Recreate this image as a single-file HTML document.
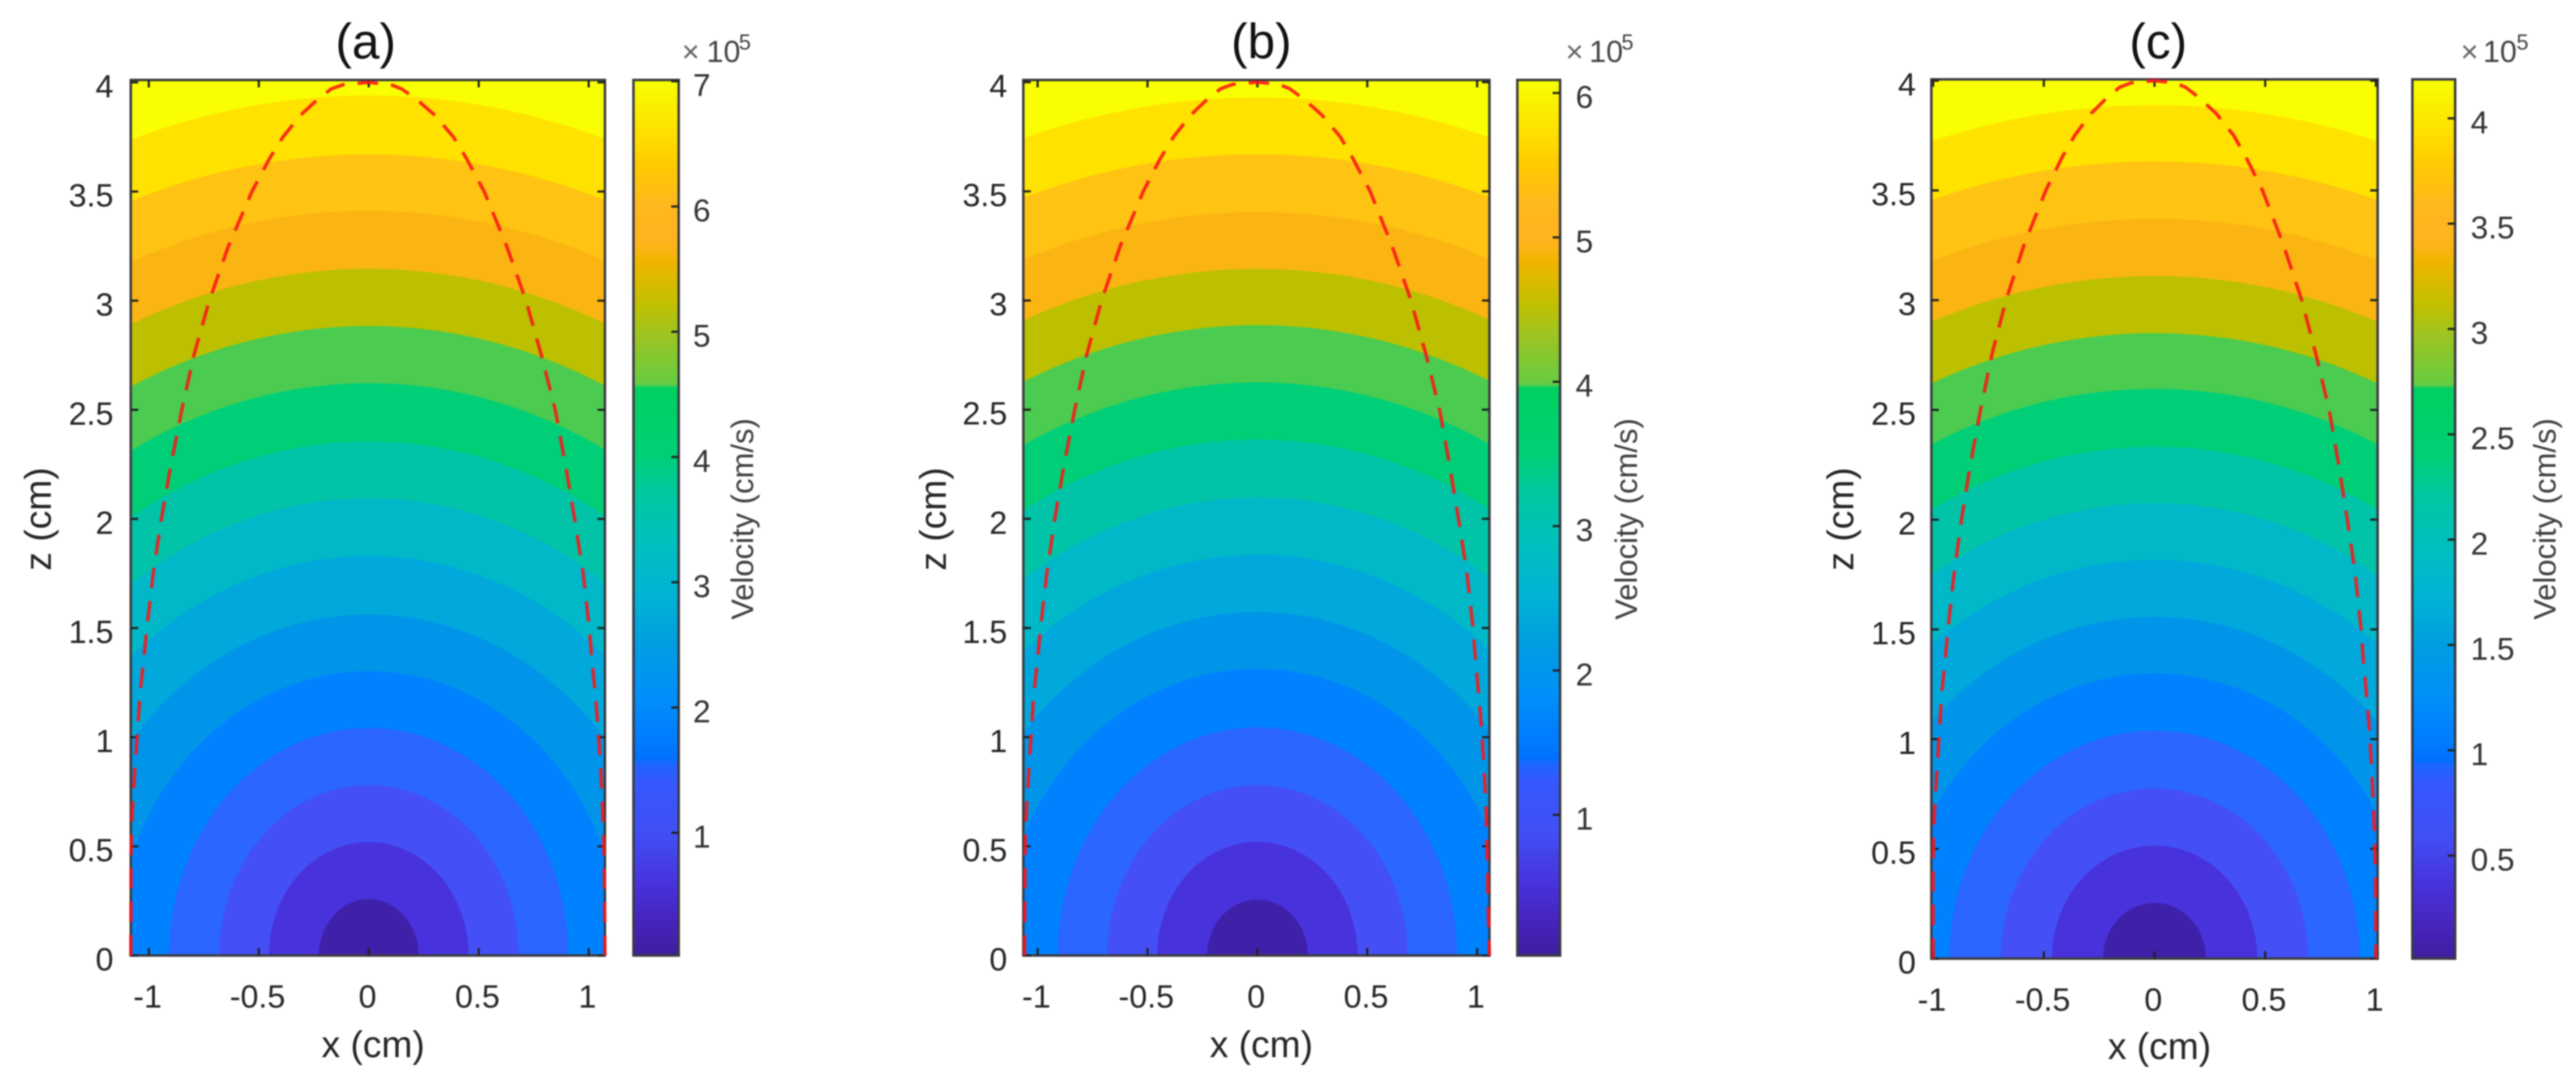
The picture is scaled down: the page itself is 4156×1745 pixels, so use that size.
<!DOCTYPE html>
<html lang="en">
<head>
<meta charset="utf-8">
<title>Velocity contour panels</title>
<style>
html,body{margin:0;padding:0;background:#fff;width:4156px;height:1745px;overflow:hidden}
svg{display:block;filter:blur(1.1px)}
text{font-family:"Liberation Sans",Arial,sans-serif}
</style>
</head>
<body>
<svg id="figure" xmlns="http://www.w3.org/2000/svg" width="4156" height="1745" viewBox="0 0 4156 1745">
  <rect x="0" y="0" width="4156" height="1745" fill="#ffffff"/>
  <defs id="svg-defs"></defs>
  <g id="plots"></g>

  <g fill="#262626">
    <text x="590" y="94" font-size="80" text-anchor="middle" fill="#111">(a)</text>
    <text x="602" y="1705" font-size="60" text-anchor="middle">x (cm)</text>
    <text transform="translate(82,837) rotate(-90)" font-size="60" text-anchor="middle">z (cm)</text>
    <text transform="translate(1215,837) rotate(-90)" font-size="50" text-anchor="middle" fill="#404040">Velocity (cm/s)</text>
    <text x="1100" y="100" font-size="49" fill="#666">×</text>
    <text x="1140" y="100" font-size="49" fill="#444">10</text>
    <text x="1192" y="80" font-size="35" fill="#444">5</text>
  </g>
  <g fill="#262626">
    <text x="2035" y="94" font-size="80" text-anchor="middle" fill="#111">(b)</text>
    <text x="2035" y="1705" font-size="60" text-anchor="middle">x (cm)</text>
    <text transform="translate(1526,837) rotate(-90)" font-size="60" text-anchor="middle">z (cm)</text>
    <text transform="translate(2641,837) rotate(-90)" font-size="50" text-anchor="middle" fill="#404040">Velocity (cm/s)</text>
    <text x="2526" y="100" font-size="49" fill="#666">×</text>
    <text x="2564" y="100" font-size="49" fill="#444">10</text>
    <text x="2616" y="80" font-size="35" fill="#444">5</text>
  </g>
  <g fill="#262626">
    <text x="3482" y="94" font-size="80" text-anchor="middle" fill="#111">(c)</text>
    <text x="3484" y="1708" font-size="60" text-anchor="middle">x (cm)</text>
    <text transform="translate(2990,837) rotate(-90)" font-size="60" text-anchor="middle">z (cm)</text>
    <text transform="translate(4123,837) rotate(-90)" font-size="50" text-anchor="middle" fill="#404040">Velocity (cm/s)</text>
    <text x="3970" y="100" font-size="49" fill="#666">×</text>
    <text x="4006" y="100" font-size="49" fill="#444">10</text>
    <text x="4060" y="80" font-size="35" fill="#444">5</text>
  </g>
</svg>

<script>
// ---------- shared values ----------
var zTicks = [0, 0.5, 1, 1.5, 2, 2.5, 3, 3.5, 4];
var zTickLabels = ['0', '0.5', '1', '1.5', '2', '2.5', '3', '3.5', '4'];
var xTicks = [-1, -0.5, 0, 0.5, 1];
var xTickLabels = ['-1', '-0.5', '0', '0.5', '1'];
var bandColors = ['#f9ff00', '#ffe200', '#ffc313', '#fbb512', '#bcc000', '#4bcb50', '#00cf78', '#00c3a8', '#00b8c8', '#00a8dc', '#0095e8', '#0082ff', '#2a66ff', '#4450f5', '#4832dc', '#3f20a8'];
var colormapFractions = [0, 0.003, 0.032, 0.082, 0.141, 0.2, 0.221, 0.2245, 0.243, 0.299, 0.358, 0.413, 0.475, 0.53, 0.568, 0.649, 0.651, 0.654, 0.711, 0.744, 0.793, 0.8145, 0.857, 0.907, 0.925, 1];
var colormapColors = ['#3f1fa0', '#3f1fa0', '#4622b8', '#4832dc', '#4050f5', '#3558ff', '#1a68ff', '#0070ff', '#007aff', '#0090f8', '#009ee0', '#00b4d4', '#00c0bc', '#00c89e', '#00cf78', '#00d060', '#50cd50', '#68cc40', '#a0c420', '#c2c000', '#f0b500', '#ffb41e', '#ffb81e', '#ffcc00', '#ffd800', '#f8ff00'];
var boundaryZ = [0, 0.3, 0.45, 0.6, 0.75, 0.9, 1.05, 1.2, 1.35, 1.5, 1.75, 2, 2.25, 2.5, 2.75, 3, 3.25, 3.5, 3.65, 3.75, 3.85, 3.92, 3.97, 3.99, 4];

// ---------- panel (a) ----------
var aCrownZ = [3.94, 3.67, 3.412, 3.146, 2.884, 2.622, 2.355, 2.094, 1.83, 1.5625, 1.303, 1.043, 0.781, 0.52, 0.2585];
var aSemiX = [3.42, 3.22, 2.98, 2.745, 2.525, 2.295, 2.07, 1.85, 1.63, 1.39, 1.15, 0.907, 0.68, 0.454, 0.227];
var aBoundaryLeftX = [-1.082, -1.081, -1.081, -1.078, -1.07, -1.06, -1.05, -1.04, -1.024, -1.009, -0.98, -0.943, -0.899, -0.85, -0.795, -0.725, -0.638, -0.531, -0.452, -0.39, -0.31, -0.235, -0.171, -0.115, 0];
var aBoundaryRightX = [1.074, 1.072, 1.07, 1.066, 1.06, 1.052, 1.042, 1.03, 1.015, 1.003, 0.975, 0.936, 0.894, 0.848, 0.785, 0.715, 0.627, 0.525, 0.445, 0.385, 0.3, 0.22, 0.15, 0.1, 0];
var aColorTicks = [1, 2, 3, 4, 5, 6, 7];
var aColorTickLabels = ['1', '2', '3', '4', '5', '6', '7'];

// ---------- panel (b) ----------
var bCrownZ = [3.93, 3.67, 3.405, 3.145, 2.887, 2.625, 2.363, 2.097, 1.835, 1.573, 1.314, 1.046, 0.78, 0.521, 0.256];
var bSemiX = [3.5, 3.27, 3.03, 2.8, 2.57, 2.34, 2.105, 1.868, 1.634, 1.4, 1.17, 0.909, 0.683, 0.456, 0.229];
var bBoundaryLeftX = [-1.06, -1.057, -1.057, -1.054, -1.046, -1.037, -1.027, -1.017, -1.001, -0.987, -0.958, -0.922, -0.879, -0.831, -0.777, -0.709, -0.624, -0.519, -0.442, -0.381, -0.303, -0.23, -0.167, -0.112, 0];
var bBoundaryRightX = [1.056, 1.048, 1.046, 1.043, 1.037, 1.029, 1.019, 1.007, 0.993, 0.981, 0.954, 0.915, 0.874, 0.829, 0.768, 0.699, 0.613, 0.513, 0.435, 0.377, 0.293, 0.215, 0.147, 0.098, 0];
var bColorTicks = [1, 2, 3, 4, 5, 6];
var bColorTickLabels = ['1', '2', '3', '4', '5', '6'];

// ---------- panel (c) ----------
var cCrownZ = [3.889, 3.632, 3.371, 3.11, 2.85, 2.596, 2.332, 2.075, 1.817, 1.557, 1.3, 1.039, 0.775, 0.515, 0.254];
var cSemiX = [3.5, 3.27, 3.03, 2.8, 2.565, 2.34, 2.1, 1.87, 1.64, 1.4, 1.17, 0.927, 0.694, 0.464, 0.232];
var cBoundaryLeftX = [-1.0, -1.0, -1.0, -0.997, -0.99, -0.98, -0.971, -0.962, -0.947, -0.933, -0.906, -0.872, -0.832, -0.786, -0.735, -0.671, -0.59, -0.491, -0.418, -0.361, -0.287, -0.217, -0.158, -0.106, 0];
var cBoundaryRightX = [1.0, 0.998, 0.996, 0.992, 0.986, 0.979, 0.97, 0.958, 0.944, 0.933, 0.907, 0.871, 0.832, 0.789, 0.73, 0.665, 0.583, 0.488, 0.414, 0.358, 0.279, 0.205, 0.14, 0.093, 0];
var cColorTicks = [0.5, 1, 1.5, 2, 2.5, 3, 3.5, 4];
var cColorTickLabels = ['0.5', '1', '1.5', '2', '2.5', '3', '3.5', '4'];

// ---------- layout only ----------
var panels = [
  { id: 'a', l: 211, r: 976, t: 129, b: 1541, xMin: -1.082, xMax: 1.074, yMax: 4.011, cl: 1022, cr: 1095, vMin: 0.02, vMax: 7.01, labelGap: 28, cbGap: 23,
    crown: aCrownZ, semi: aSemiX, left: aBoundaryLeftX, right: aBoundaryRightX, cTicks: aColorTicks, cLabels: aColorTickLabels },
  { id: 'b', l: 1651, r: 2403, t: 129, b: 1541, xMin: -1.065, xMax: 1.056, yMax: 4.01, cl: 2448, cr: 2517, vMin: 0.026, vMax: 6.09, labelGap: 26, cbGap: 25,
    crown: bCrownZ, semi: bSemiX, left: bBoundaryLeftX, right: bBoundaryRightX, cTicks: bColorTicks, cLabels: bColorTickLabels },
  { id: 'c', l: 3116, r: 3836, t: 128, b: 1546, xMin: -1.008, xMax: 1.008, yMax: 4.006, cl: 3892, cr: 3961, vMin: 0.011, vMax: 4.185, labelGap: 25, cbGap: 25,
    crown: cCrownZ, semi: cSemiX, left: cBoundaryLeftX, right: cBoundaryRightX, cTicks: cColorTicks, cLabels: cColorTickLabels }
];

var NS = 'http://www.w3.org/2000/svg';
var plots = document.getElementById('plots');
var defs = document.getElementById('svg-defs');

function make(tag, attrs, parent) {
  var el = document.createElementNS(NS, tag);
  for (var k in attrs) { el.setAttribute(k, attrs[k]); }
  parent.appendChild(el);
  return el;
}

// one shared vertical gradient for all colorbars
var gradient = make('linearGradient', { id: 'colormap', x1: '0', y1: '1', x2: '0', y2: '0' }, defs);
colormapFractions.forEach(function (f, i) {
  make('stop', { offset: f, 'stop-color': colormapColors[i] }, gradient);
});

function drawPanel(p) {
  var sx = function (v) { return p.l + (v - p.xMin) / (p.xMax - p.xMin) * (p.r - p.l); };
  var sy = function (v) { return p.b - v / p.yMax * (p.b - p.t); };
  var sc = function (v) { return p.b - (v - p.vMin) / (p.vMax - p.vMin) * (p.b - p.t); };

  var group = make('g', {}, plots);
  
  

  var contours = make('g', {}, group);
  
  

  var base = make('rect', { x: p.l, y: p.t, width: p.r - p.l, height: p.b - p.t, fill: bandColors[0] }, contours);
  
  

  // each band: the part of a half ellipse (crown height, semi width) that lies inside the axes
  p.crown.forEach(function (c, i) {
    var a = p.semi[i];
    var x0 = Math.max(p.xMin, -a), x1 = Math.min(p.xMax, a);
    var z0 = c * Math.sqrt(Math.max(0, 1 - (x0 / a) * (x0 / a)));
    var z1 = c * Math.sqrt(Math.max(0, 1 - (x1 / a) * (x1 / a)));
    var rx = Math.abs(sx(a) - sx(0)), ry = Math.abs(sy(c) - sy(0));
    var d = 'M' + sx(x0) + ' ' + sy(0) + 'L' + sx(x0) + ' ' + sy(z0) +
            'A' + rx + ' ' + ry + ' 0 0 1 ' + sx(x1) + ' ' + sy(z1) +
            'L' + sx(x1) + ' ' + sy(0) + 'Z';
    var band = make('path', { d: d, fill: bandColors[i + 1] }, contours);
    
    
  });

  // axis frame
  var frame = make('rect', { x: p.l, y: p.t, width: p.r - p.l, height: p.b - p.t, fill: 'none', stroke: '#3a3a40', 'stroke-width': 4 }, group);
  
  

  // x ticks
  xTicks.forEach(function (v, i) {
    var x = sx(v);
    var t1 = make('line', { x1: x, x2: x, y1: p.b, y2: p.b - 12, stroke: '#222', 'stroke-width': 3.5 }, group);
    
    
    var t2 = make('line', { x1: x, x2: x, y1: p.t, y2: p.t + 12, stroke: '#222', 'stroke-width': 3.5 }, group);
    
    
    var lab = make('text', { x: x - 2, y: p.b + 84, 'font-size': 52, 'text-anchor': 'middle', fill: '#262626' }, group);
    lab.textContent = xTickLabels[i];
    
    
  });

  // z ticks
  zTicks.forEach(function (v, i) {
    var y = sy(v);
    var t1 = make('line', { x1: p.l, x2: p.l + 12, y1: y, y2: y, stroke: '#222', 'stroke-width': 3.5 }, group);
    
    
    var t2 = make('line', { x1: p.r, x2: p.r - 12, y1: y, y2: y, stroke: '#222', 'stroke-width': 3.5 }, group);
    
    
    var lab = make('text', { x: p.l - p.labelGap, y: y + 24, 'font-size': 52, 'text-anchor': 'end', fill: '#262626' }, group);
    lab.textContent = zTickLabels[i];
    
    
  });

  // dashed boundary curve
  var d = '';
  boundaryZ.forEach(function (z, i) { d += (i ? 'L' : 'M') + sx(p.left[i]) + ' ' + sy(z); });
  for (var j = boundaryZ.length - 2; j >= 0; j--) { d += 'L' + sx(p.right[j]) + ' ' + sy(boundaryZ[j]); }
  var curve = make('path', { d: d, fill: 'none', stroke: 'rgba(250,20,24,0.88)', 'stroke-width': 5.5, 'stroke-linejoin': 'round', 'stroke-dasharray': '33 21' }, group);
  
  

  // colorbar
  var bar = make('rect', { x: p.cl, y: p.t, width: p.cr - p.cl, height: p.b - p.t, fill: 'url(#colormap)', stroke: '#3a3a40', 'stroke-width': 4 }, group);
  
  

  p.cTicks.forEach(function (v, i) {
    var y = sc(v);
    var tick = make('line', { x1: p.cr, x2: p.cr - 12, y1: y, y2: y, stroke: '#222', 'stroke-width': 3.5 }, group);
    
    
    var lab = make('text', { x: p.cr + p.cbGap, y: y + 24, 'font-size': 51, fill: '#333' }, group);
    lab.textContent = p.cLabels[i];
    
    
  });
}

panels.forEach(drawPanel);
</script>
</body>
</html>
